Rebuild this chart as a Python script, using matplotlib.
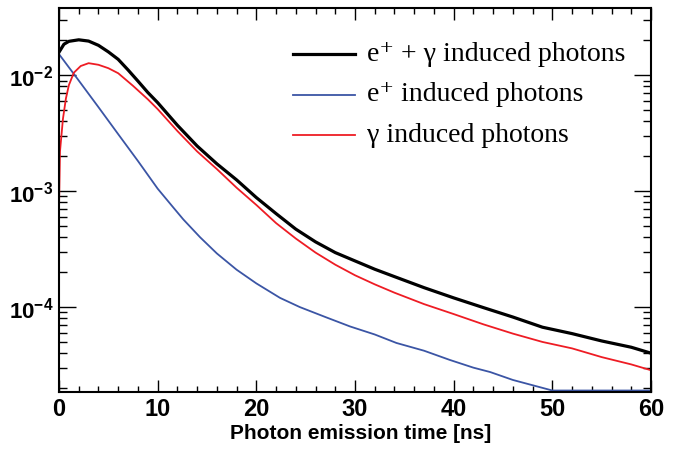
import numpy as np
import matplotlib
matplotlib.use("Agg")
import matplotlib.pyplot as plt
from matplotlib.ticker import MultipleLocator, FixedLocator, NullFormatter, FuncFormatter, LogLocator

plt.rcParams['mathtext.fontset'] = 'custom'
plt.rcParams['mathtext.rm'] = 'Liberation Sans:bold'
plt.rcParams['mathtext.bf'] = 'Liberation Sans:bold'

# Values (time in ns, normalised counts)
t_total = [0, 0.5, 1, 2, 3, 4, 5, 6, 7, 8, 9, 10, 12, 14, 16, 18, 20, 22, 24, 26,
           28, 30, 32, 34, 37, 40, 43, 46, 49, 52, 55, 58, 60]
total = [0.0158, 0.0185, 0.0196, 0.0202, 0.0197, 0.0181, 0.0159, 0.0137, 0.0111,
         0.0089, 0.0071, 0.0058, 0.0037, 0.00245, 0.00172, 0.00125, 0.00088,
         0.00064, 0.00047, 0.000365, 0.000295, 0.000250, 0.000212, 0.000183,
         0.000147, 0.000120, 0.000099, 0.000082, 0.000067, 0.000059, 0.000051,
         0.000045, 0.000040]

t_gamma = [0, 0.1, 0.4, 0.7, 1.0, 1.5, 2.2, 3, 4, 5, 6, 7.5, 9, 10, 12, 14, 16, 18,
           20, 22, 24, 26, 28, 30, 32, 34, 37, 40, 43, 46, 49, 52, 55, 58, 60]
gamma = [0.0007, 0.0022, 0.0042, 0.0063, 0.0082, 0.0105, 0.0120, 0.0127, 0.0123,
         0.0115, 0.0104, 0.0081, 0.0062, 0.0051, 0.0033, 0.0022, 0.00155, 0.00107,
         0.00076, 0.00053, 0.00039, 0.000295, 0.000232, 0.000188, 0.000157,
         0.000133, 0.000106, 0.000087, 0.000071, 0.000059, 0.000050, 0.000044,
         0.000037, 0.000032, 0.0000285]

t_pos = [0, 2, 4, 6, 8, 10, 11.6, 12.6, 14.3, 16, 18, 20, 22.4, 24.4, 27, 29.5,
         32, 34.2, 37, 39.6, 42, 43.7, 46, 48.7, 50, 55, 60]
positron = [0.0152, 0.0090, 0.0053, 0.0031, 0.00182, 0.00105, 0.00072, 0.00057,
            0.00040, 0.00029, 0.00021, 0.00016, 0.00012, 0.00010, 0.000082,
            0.000068, 0.000058, 0.000049, 0.000042, 0.000035, 0.000030,
            0.0000275, 0.0000235, 0.0000204, 0.000018, 0.000015, 0.000013]

labels = ["e\u207a + \u03b3 induced photons", "e\u207a induced photons",
          "\u03b3 induced photons"]
colors = ['black', '#3b55a5', '#ee1c24']
widths = [2.3, 1.3, 1.3]

YMIN, YMAX = 1.85e-5, 0.038

fig = plt.figure(figsize=(6.75, 4.49), dpi=100)
ax = fig.add_axes([59 / 675, 57 / 449, 592 / 675, 384 / 449])

# ROOT draws values under the frame along its bottom edge
floor = YMIN * 1.03
series = [(t_total, total), (t_pos, positron), (t_gamma, gamma)]
for (tx, vals), c, w in zip(series, colors, widths):
    ax.plot(tx, np.clip(vals, floor, None), color=c, lw=w)

ax.set_yscale('log')
ax.set_xlim(0, 60)
ax.set_ylim(YMIN, YMAX)

ax.xaxis.set_major_locator(MultipleLocator(10))
ax.xaxis.set_minor_locator(MultipleLocator(2))
ax.yaxis.set_major_locator(FixedLocator([1e-4, 1e-3, 1e-2]))
ax.yaxis.set_minor_locator(LogLocator(base=10, subs=np.arange(2, 10)))
ax.yaxis.set_major_formatter(FuncFormatter(lambda v, p: r"$10^{%d}$" % round(np.log10(v))))
ax.yaxis.set_minor_formatter(NullFormatter())

ax.tick_params(axis='x', which='major', direction='in', top=True, length=8.5, width=1.0,
               labelsize=17, pad=4)
ax.tick_params(axis='x', which='minor', direction='in', top=True, length=4.5, width=1.0)
ax.tick_params(axis='y', which='major', direction='in', right=True, length=12, width=1.0,
               labelsize=16, pad=4)
ax.tick_params(axis='y', which='minor', direction='in', right=True, length=6, width=1.0)
for lab in ax.get_xticklabels():
    lab.set_fontfamily('Liberation Sans')
    lab.set_fontweight('bold')

for s in ax.spines.values():
    s.set_linewidth(1.5)

ax.set_xlabel("Photon emission time [ns]", fontsize=15, fontweight='bold',
              family='Liberation Sans')
ax.xaxis.set_label_coords(0.51, -0.083)

# legend, drawn by hand like the ROOT TLegend
rows = [0.88, 0.774, 0.668]
for lab, c, w, y in zip(labels, colors, widths, rows):
    ax.plot([0.395, 0.50], [y, y], transform=ax.transAxes, color=c, lw=w)
    ax.text(0.52, y, lab, transform=ax.transAxes, va='center', ha='left',
            family=['Liberation Serif', 'DejaVu Serif'], fontsize=20)

fig.savefig("out.png", dpi=100)
